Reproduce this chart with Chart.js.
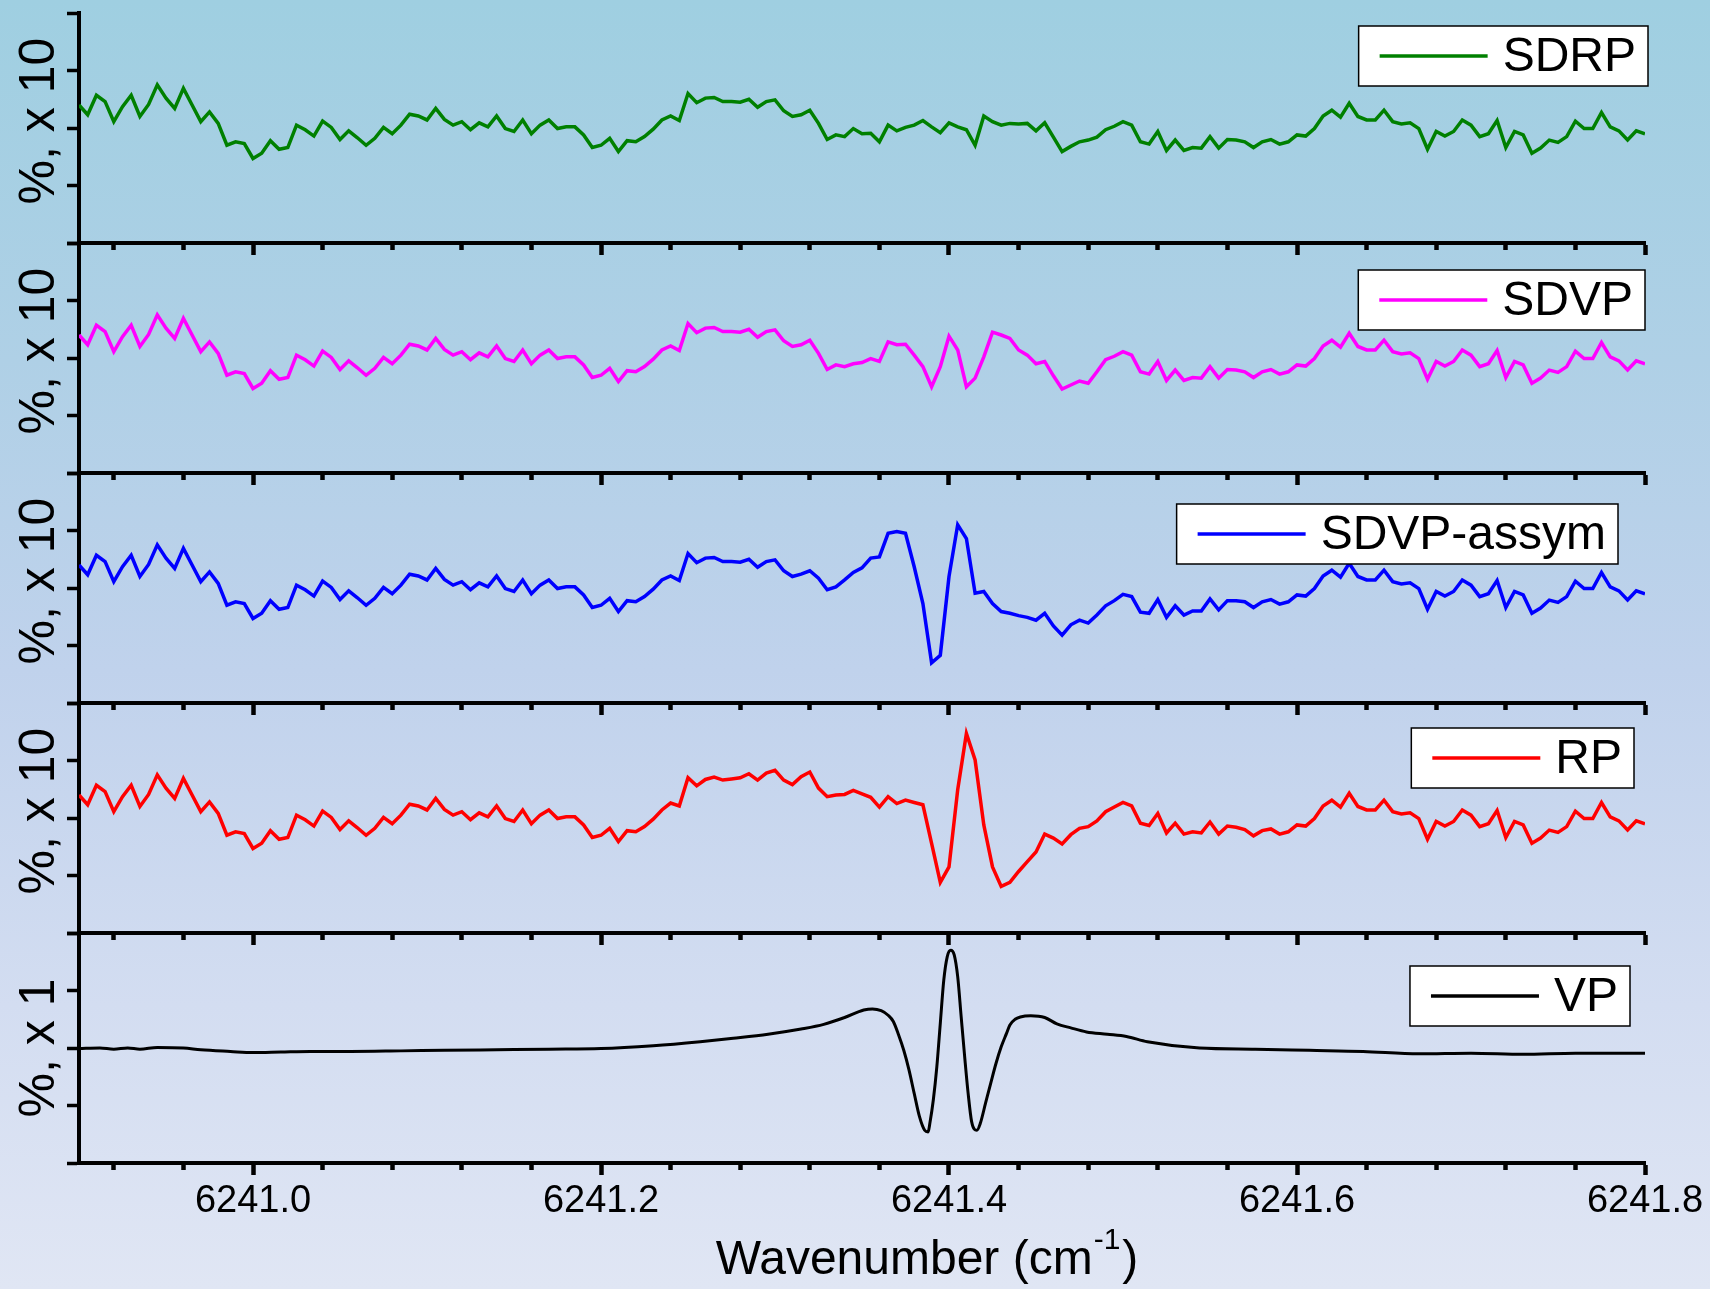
<!DOCTYPE html>
<html>
<head>
<meta charset="utf-8">
<title>Residuals vs wavenumber</title>
<script src="https://cdn.jsdelivr.net/npm/chart.js@4.4.1/dist/chart.umd.min.js"></script>
<style>
  html, body { margin: 0; padding: 0; }
  #stage {
    position: relative;
    width: 1710px;
    height: 1289px;
    overflow: hidden;
    background: linear-gradient(to bottom, #9fcfe1 0%, #afd0e6 28%, #c0d2ec 52%, #d3ddf1 78%, #e0e6f4 100%);
  }
  #stage canvas { position: absolute; left: 0; top: 0; }
</style>
</head>
<body>
<div id="stage"></div>
<script>
// x grid, 0.005 cm-1 step
const wavenumbers = Array.from({ length: 181 }, (_, i) => 6240.9 + i * 0.005);

const xTickValues = [6240.92, 6240.96, 6241.00, 6241.04, 6241.08, 6241.12, 6241.16, 6241.20,
  6241.24, 6241.28, 6241.32, 6241.36, 6241.40, 6241.44, 6241.48, 6241.52, 6241.56, 6241.60,
  6241.64, 6241.68, 6241.72, 6241.76, 6241.80];
const xLabelValues = [6241.0, 6241.2, 6241.4, 6241.6, 6241.8];

const sdrp = [
  0.40, 0.23, 0.57, 0.46, 0.11, 0.37, 0.57, 0.20, 0.41, 0.75,
  0.52, 0.34, 0.69, 0.40, 0.11, 0.28, 0.08, -0.30, -0.24, -0.27,
  -0.53, -0.44, -0.22, -0.37, -0.34, 0.05, -0.03, -0.14, 0.12, 0.01,
  -0.20, -0.05, -0.17, -0.30, -0.18, 0.01, -0.10, 0.05, 0.24, 0.21,
  0.14, 0.34, 0.15, 0.05, 0.11, -0.03, 0.09, 0.02, 0.21, -0.01,
  -0.06, 0.14, -0.10, 0.05, 0.14, -0.01, 0.02, 0.02, -0.12, -0.34,
  -0.30, -0.18, -0.41, -0.22, -0.24, -0.15, -0.02, 0.14, 0.21, 0.13,
  0.60, 0.44, 0.52, 0.53, 0.46, 0.46, 0.45, 0.50, 0.36, 0.46,
  0.49, 0.30, 0.20, 0.23, 0.31, 0.08, -0.20, -0.12, -0.15, -0.01,
  -0.10, -0.09, -0.24, 0.05, -0.05, 0.01, 0.05, 0.13, 0.02, -0.08,
  0.09, 0.02, -0.03, -0.30, 0.21, 0.11, 0.05, 0.08, 0.07, 0.08,
  -0.05, 0.09, -0.16, -0.41, -0.32, -0.24, -0.21, -0.16, -0.03, 0.03,
  0.11, 0.05, -0.24, -0.28, -0.06, -0.39, -0.21, -0.39, -0.34, -0.35,
  -0.15, -0.35, -0.20, -0.21, -0.24, -0.34, -0.24, -0.20, -0.28, -0.24,
  -0.12, -0.14, -0.01, 0.21, 0.31, 0.19, 0.43, 0.20, 0.14, 0.14,
  0.31, 0.11, 0.07, 0.09, -0.01, -0.37, -0.06, -0.14, -0.06, 0.14,
  0.05, -0.15, -0.10, 0.13, -0.34, -0.06, -0.12, -0.44, -0.35, -0.21,
  -0.25, -0.15, 0.12, -0.01, -0.01, 0.27, 0.02, -0.05, -0.21, -0.05,
  -0.10
];

const sdvp = [
  0.40, 0.23, 0.57, 0.46, 0.11, 0.37, 0.57, 0.20, 0.41, 0.75,
  0.52, 0.34, 0.69, 0.40, 0.11, 0.28, 0.08, -0.30, -0.24, -0.27,
  -0.53, -0.44, -0.22, -0.37, -0.34, 0.05, -0.03, -0.14, 0.12, 0.01,
  -0.20, -0.05, -0.17, -0.30, -0.18, 0.01, -0.10, 0.05, 0.24, 0.21,
  0.14, 0.34, 0.15, 0.05, 0.11, -0.03, 0.09, 0.02, 0.21, -0.01,
  -0.06, 0.14, -0.10, 0.05, 0.14, -0.01, 0.02, 0.02, -0.12, -0.34,
  -0.30, -0.18, -0.41, -0.22, -0.24, -0.15, -0.02, 0.14, 0.21, 0.13,
  0.60, 0.44, 0.52, 0.53, 0.46, 0.46, 0.45, 0.50, 0.36, 0.46,
  0.49, 0.30, 0.20, 0.23, 0.31, 0.08, -0.20, -0.12, -0.15, -0.10,
  -0.08, -0.01, -0.06, 0.28, 0.23, 0.24, 0.05, -0.15, -0.50, -0.15,
  0.38, 0.14, -0.50, -0.35, 0.02, 0.45, 0.40, 0.34, 0.14, 0.05,
  -0.10, -0.06, -0.31, -0.54, -0.47, -0.40, -0.44, -0.24, -0.03, 0.03,
  0.11, 0.05, -0.24, -0.28, -0.06, -0.39, -0.21, -0.39, -0.34, -0.35,
  -0.15, -0.35, -0.20, -0.21, -0.24, -0.34, -0.24, -0.20, -0.28, -0.24,
  -0.12, -0.14, -0.01, 0.21, 0.31, 0.19, 0.43, 0.20, 0.14, 0.14,
  0.31, 0.11, 0.07, 0.09, -0.01, -0.37, -0.06, -0.14, -0.06, 0.14,
  0.05, -0.15, -0.10, 0.13, -0.34, -0.06, -0.12, -0.44, -0.35, -0.21,
  -0.25, -0.15, 0.12, -0.01, -0.01, 0.27, 0.02, -0.05, -0.21, -0.05,
  -0.10
];

const sdvpAsym = [
  0.40, 0.23, 0.57, 0.46, 0.11, 0.37, 0.57, 0.20, 0.41, 0.75,
  0.52, 0.34, 0.69, 0.40, 0.11, 0.28, 0.08, -0.30, -0.24, -0.27,
  -0.53, -0.44, -0.22, -0.37, -0.34, 0.05, -0.03, -0.14, 0.12, 0.01,
  -0.20, -0.05, -0.17, -0.30, -0.18, 0.01, -0.10, 0.05, 0.24, 0.21,
  0.14, 0.34, 0.15, 0.05, 0.11, -0.03, 0.09, 0.02, 0.21, -0.01,
  -0.06, 0.14, -0.10, 0.05, 0.14, -0.01, 0.02, 0.02, -0.12, -0.34,
  -0.30, -0.18, -0.41, -0.22, -0.24, -0.15, -0.02, 0.14, 0.21, 0.13,
  0.60, 0.44, 0.52, 0.53, 0.46, 0.46, 0.45, 0.50, 0.36, 0.46,
  0.49, 0.30, 0.20, 0.24, 0.30, 0.17, -0.03, 0.02, 0.14, 0.27,
  0.35, 0.52, 0.54, 0.95, 0.98, 0.95, 0.37, -0.27, -1.30, -1.17,
  0.20, 1.10, 0.86, -0.09, -0.06, -0.27, -0.41, -0.44, -0.48, -0.51,
  -0.56, -0.44, -0.66, -0.82, -0.64, -0.56, -0.61, -0.47, -0.31, -0.22,
  -0.11, -0.15, -0.42, -0.44, -0.20, -0.51, -0.31, -0.47, -0.40, -0.40,
  -0.19, -0.38, -0.22, -0.22, -0.24, -0.34, -0.24, -0.20, -0.28, -0.24,
  -0.12, -0.14, -0.01, 0.21, 0.31, 0.19, 0.43, 0.20, 0.14, 0.14,
  0.31, 0.11, 0.07, 0.09, -0.01, -0.37, -0.06, -0.14, -0.06, 0.14,
  0.05, -0.15, -0.10, 0.13, -0.34, -0.06, -0.12, -0.44, -0.35, -0.21,
  -0.25, -0.15, 0.12, -0.01, -0.01, 0.27, 0.02, -0.05, -0.21, -0.05,
  -0.10
];

const rp = [
  0.40, 0.23, 0.57, 0.46, 0.11, 0.37, 0.57, 0.20, 0.41, 0.75,
  0.52, 0.34, 0.69, 0.40, 0.11, 0.28, 0.08, -0.30, -0.24, -0.27,
  -0.53, -0.44, -0.22, -0.37, -0.34, 0.05, -0.03, -0.14, 0.12, 0.01,
  -0.20, -0.05, -0.17, -0.30, -0.18, 0.01, -0.10, 0.05, 0.24, 0.21,
  0.14, 0.34, 0.15, 0.05, 0.11, -0.03, 0.09, 0.02, 0.21, -0.01,
  -0.06, 0.14, -0.10, 0.05, 0.14, -0.01, 0.02, 0.02, -0.12, -0.34,
  -0.30, -0.18, -0.41, -0.22, -0.24, -0.15, -0.02, 0.14, 0.26, 0.21,
  0.70, 0.56, 0.67, 0.71, 0.66, 0.68, 0.70, 0.77, 0.66, 0.78,
  0.83, 0.66, 0.58, 0.72, 0.80, 0.52, 0.37, 0.40, 0.41, 0.48,
  0.42, 0.36, 0.19, 0.37, 0.25, 0.31, 0.27, 0.23, -0.44, -1.12,
  -0.85, 0.49, 1.47, 1.01, -0.12, -0.85, -1.19, -1.12, -0.93, -0.76,
  -0.59, -0.28, -0.35, -0.45, -0.29, -0.18, -0.15, -0.05, 0.11, 0.19,
  0.27, 0.21, -0.09, -0.13, 0.08, -0.26, -0.09, -0.28, -0.24, -0.26,
  -0.07, -0.28, -0.14, -0.16, -0.20, -0.31, -0.22, -0.19, -0.28, -0.24,
  -0.12, -0.14, -0.01, 0.21, 0.31, 0.19, 0.43, 0.20, 0.14, 0.14,
  0.31, 0.11, 0.07, 0.09, -0.01, -0.37, -0.06, -0.14, -0.06, 0.14,
  0.05, -0.15, -0.10, 0.13, -0.34, -0.06, -0.12, -0.44, -0.35, -0.21,
  -0.25, -0.15, 0.12, -0.01, -0.01, 0.27, 0.02, -0.05, -0.21, -0.05,
  -0.10
];

// VP is smooth, sampled finer around the line centre
const vpWavenumbers = [
  6240.900, 6240.912, 6240.920, 6240.928, 6240.935, 6240.945, 6240.960, 6240.970, 6240.987, 6241.000,
  6241.016, 6241.033, 6241.056, 6241.085, 6241.110, 6241.140, 6241.170, 6241.200, 6241.230, 6241.257,
  6241.276, 6241.296, 6241.315, 6241.328, 6241.340, 6241.351, 6241.356, 6241.361, 6241.365, 6241.368,
  6241.371, 6241.374, 6241.377, 6241.380, 6241.383, 6241.386, 6241.388, 6241.389, 6241.391, 6241.393,
  6241.395, 6241.397, 6241.399, 6241.401, 6241.403, 6241.405, 6241.407, 6241.409, 6241.411, 6241.413,
  6241.416, 6241.418, 6241.421, 6241.424, 6241.427, 6241.430, 6241.433, 6241.435, 6241.438, 6241.441,
  6241.447, 6241.455, 6241.462, 6241.470, 6241.479, 6241.491, 6241.502, 6241.514, 6241.544, 6241.576,
  6241.607, 6241.638, 6241.670, 6241.700, 6241.730, 6241.760, 6241.800
];
const vp = [
  -0.01, 0.00, -0.02, 0.00, -0.02, 0.01, 0.00, -0.03, -0.06, -0.08,
  -0.07, -0.06, -0.06, -0.05, -0.04, -0.03, -0.02, -0.01, 0.04, 0.11,
  0.17, 0.24, 0.33, 0.41, 0.53, 0.66, 0.68, 0.65, 0.57, 0.46,
  0.23, -0.04, -0.38, -0.79, -1.19, -1.43, -1.46, -1.31, -0.90, -0.33,
  0.43, 1.18, 1.59, 1.70, 1.62, 1.24, 0.54, -0.15, -0.79, -1.28,
  -1.43, -1.31, -0.96, -0.61, -0.27, 0.02, 0.25, 0.40, 0.50, 0.54,
  0.56, 0.53, 0.42, 0.35, 0.28, 0.24, 0.20, 0.11, 0.00, -0.02,
  -0.04, -0.06, -0.10, -0.09, -0.11, -0.09, -0.09
];

const FONT = "'Liberation Sans', Arial, sans-serif";
const W = 1710, H = 1289, PANEL_H = 230, XAXIS_H = 14;

const panels = [
  { label: "SDRP", color: "#008000", xs: wavenumbers, ys: sdrp, top: 13, yTitle: " %, x 10", legendRight: 1648, legendTop: 13 },
  { label: "SDVP", color: "#ff00ff", xs: wavenumbers, ys: sdvp, top: 243, yTitle: " %, x 10", legendRight: 1645, legendTop: 27 },
  { label: "SDVP-assym", color: "#0000ff", xs: wavenumbers, ys: sdvpAsym, top: 473, yTitle: " %, x 10", legendRight: 1618, legendTop: 31 },
  { label: "RP", color: "#ff0000", xs: wavenumbers, ys: rp, top: 703, yTitle: " %, x 10", legendRight: 1634, legendTop: 25 },
  { label: "VP", color: "#000000", xs: vpWavenumbers, ys: vp, top: 933, yTitle: "%, x 1", legendRight: 1630, legendTop: 33, smooth: true, last: true },
];

const isLabelled = (v) => xLabelValues.some((m) => Math.abs(m - v) < 1e-6);

const boxLegend = {
  id: "boxLegend",
  afterDraw(chart, args, opts) {
    if (!opts.label) return;
    const { ctx, chartArea } = chart;
    ctx.save();
    ctx.font = `48px ${FONT}`;
    const textW = ctx.measureText(opts.label).width;
    const w = 21 + 108 + 15 + textW + 12;
    const h = 60;
    const x = opts.right - w;
    const y = chartArea.top + opts.top;
    ctx.fillStyle = "#ffffff";
    ctx.fillRect(x, y, w, h);
    ctx.strokeStyle = "#000";
    ctx.lineWidth = 1.5;
    ctx.strokeRect(x, y, w, h);
    ctx.strokeStyle = opts.color;
    ctx.lineWidth = 3.5;
    ctx.beginPath();
    ctx.moveTo(x + 21, y + h / 2);
    ctx.lineTo(x + 129, y + h / 2);
    ctx.stroke();
    ctx.fillStyle = "#000";
    ctx.textBaseline = "middle";
    ctx.fillText(opts.label, x + 144, y + h / 2 + 2);
    ctx.restore();
  },
};

const xTitle = {
  id: "xTitle",
  afterDraw(chart, args, opts) {
    if (!opts.show) return;
    const { ctx } = chart;
    ctx.save();
    ctx.fillStyle = "#000";
    ctx.textBaseline = "alphabetic";
    const main = "Wavenumber (cm";
    ctx.font = `48px ${FONT}`;
    const w1 = ctx.measureText(main).width;
    const w3 = ctx.measureText(")").width;
    ctx.font = `30px ${FONT}`;
    const w2 = ctx.measureText("-1").width;
    let x = opts.center - (w1 + w2 + w3 + 3) / 2;
    ctx.font = `48px ${FONT}`;
    ctx.fillText(main, x, opts.baseline);
    x += w1;
    ctx.font = `30px ${FONT}`;
    ctx.fillText("-1", x + 1, opts.baseline - 25);
    x += w2 + 3;
    ctx.font = `48px ${FONT}`;
    ctx.fillText(")", x, opts.baseline);
    ctx.restore();
  },
};

const stage = document.getElementById("stage");

panels.forEach((p) => {
  const canvas = document.createElement("canvas");
  canvas.width = W;
  canvas.height = H;
  canvas.style.width = W + "px";
  canvas.style.height = H + "px";
  stage.appendChild(canvas);

  // the bottom panel's axis box must hold its labels, or Chart.js clips them
  const axisH = p.last ? H - p.top - PANEL_H : XAXIS_H;

  new Chart(canvas, {
    type: "line",
    data: {
      datasets: [{
        label: p.label,
        data: p.xs.map((x, i) => ({ x, y: p.ys[i] })),
        borderColor: p.color,
        borderWidth: p.smooth ? 3 : 3.5,
        pointRadius: 0,
        fill: false,
        tension: 0,
        cubicInterpolationMode: p.smooth ? "monotone" : "default",
      }],
    },
    options: {
      responsive: false,
      animation: false,
      events: [],
      layout: { padding: { top: p.top, bottom: H - p.top - PANEL_H - axisH, left: 0, right: W - 1645 } },
      plugins: {
        legend: { display: false },
        tooltip: { enabled: false },
        boxLegend: { label: p.label, color: p.color, right: p.legendRight, top: p.legendTop },
        xTitle: { show: !!p.last, center: 927, baseline: 1274 },
      },
      scales: {
        x: {
          type: "linear",
          min: 6240.9,
          max: 6241.8,
          afterBuildTicks: (scale) => { scale.ticks = xTickValues.map((value) => ({ value })); },
          afterFit: (scale) => { scale.height = axisH; },
          border: { display: true, color: "#000", width: 4 },
          grid: {
            drawOnChartArea: false,
            drawTicks: true,
            tickLength: 12,
            tickWidth: 4.5,
            tickColor: "#000",
            tickBorderDash: (ctx) => (ctx.tick && isLabelled(ctx.tick.value) ? [] : [5, 40]),
          },
          ticks: {
            display: !!p.last,
            autoSkip: false,
            maxRotation: 0,
            padding: 4,
            color: "#000",
            font: { family: FONT, size: 38 },
            callback: (value) => (isLabelled(value) ? Number(value).toFixed(1) : ""),
          },
        },
        y: {
          min: -2,
          max: 2,
          afterFit: (scale) => { scale.width = 79; },
          border: { display: true, color: "#000", width: 4 },
          grid: { drawOnChartArea: false, tickLength: 12, tickWidth: 3.5, tickColor: "#000" },
          ticks: { display: false, stepSize: 1 },
          title: {
            display: true,
            text: p.yTitle,
            color: "#000",
            font: { family: FONT, size: 50, lineHeight: 1 },
            padding: { top: 15, bottom: 0 },
          },
        },
      },
    },
    plugins: [boxLegend, xTitle],
  });
});
</script>
</body>
</html>
